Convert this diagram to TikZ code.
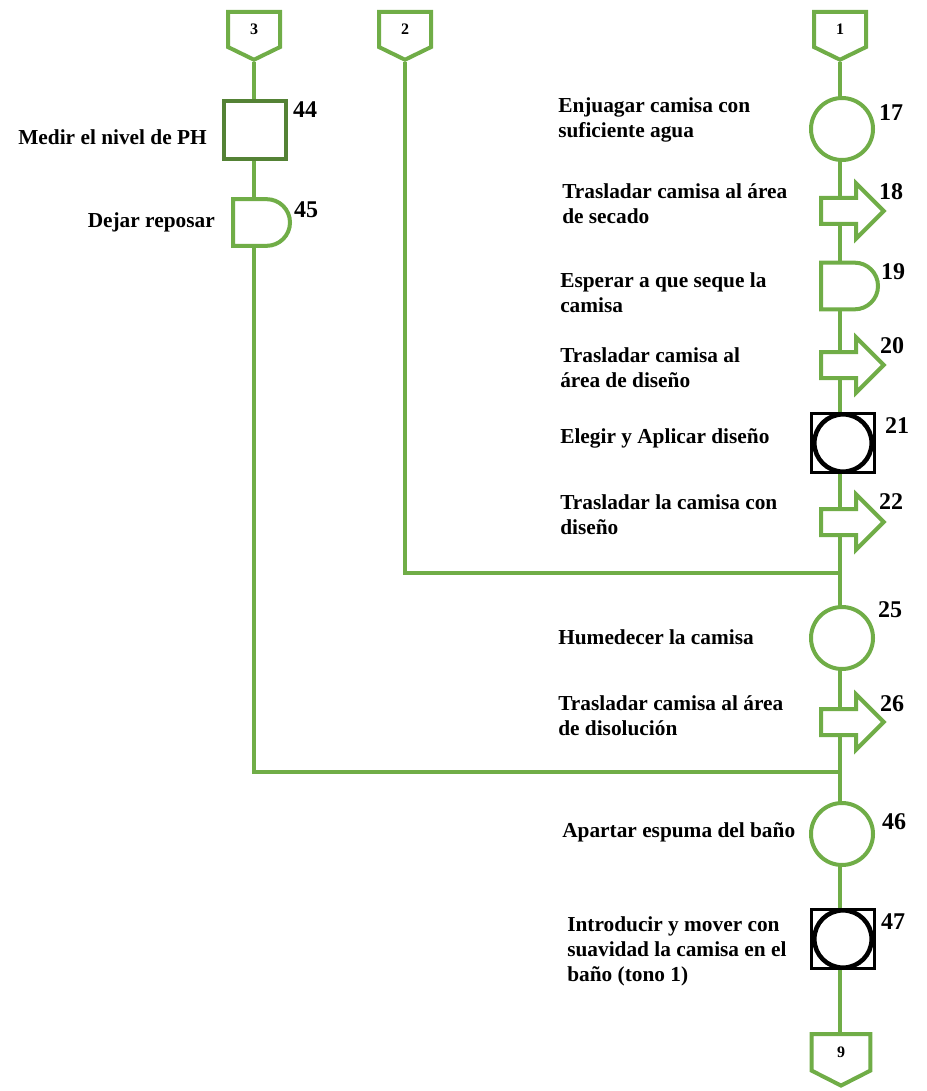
\documentclass[tikz,border=0pt]{standalone}
\usepackage{fontspec}
\setmainfont{Liberation Serif}
\usetikzlibrary{shapes.arrows,shapes.misc,shapes.symbols,backgrounds}
\definecolor{FlowGreen}{HTML}{70AD47}
\definecolor{FlowDarkGreen}{HTML}{548235}

\begin{document}
\begin{tikzpicture}[x=0.75pt, y=-0.75pt,
  flow/.style={draw=FlowGreen, line width=3pt},
  offpage/.style={signal, signal to=south, signal from=nowhere, signal pointer angle=128,
    draw=FlowGreen, line width=3pt, fill=white, minimum width=39pt, minimum height=27.75pt,
    inner sep=0pt, anchor=north, font=\fontsize{12}{12}\selectfont\bfseries},
  oper/.style={circle, draw=FlowGreen, line width=3pt, fill=white, minimum size=46.5pt, inner sep=0pt},
  transp/.style={single arrow, single arrow head extend=11pt, single arrow head indent=0pt,
    draw=FlowGreen, line width=3pt, fill=white, minimum height=47pt, inner xsep=0pt,
    inner ysep=8.25pt, anchor=tail},
  delay/.style={rounded rectangle, rounded rectangle left arc=none, draw=FlowGreen,
    line width=3pt, fill=white, minimum width=42.75pt, minimum height=35pt, inner sep=0pt, anchor=west},
  insp/.style={rectangle, draw=FlowDarkGreen, line width=3pt, fill=white,
    minimum width=46.5pt, minimum height=43.5pt, inner sep=0pt},
  combo/.style={rectangle, draw=black, line width=2.25pt, fill=white,
    minimum width=47.25pt, minimum height=44.25pt, inner sep=0pt},
  comboin/.style={circle, draw=black, line width=3.4pt, minimum size=43pt, inner sep=0pt},
  num/.style={font=\fontsize{18}{18}\selectfont\bfseries, inner sep=0pt},
  lbl/.style={font=\fontsize{16}{18.75}\selectfont\bfseries, align=left, inner sep=0pt, anchor=west},
]
  \useasboundingbox (0,0) rectangle (926,1091);

  \node[offpage] (c3) at (254,10) {3};
  \node[offpage] (c2) at (405,10) {2};
  \node[offpage] (c1) at (840,10) {1};

  \node[insp] (o44) at (255,130) {};
  \node[delay] (o45) at (231,222.5) {};

  \node[oper] (o17) at (842,129) {};
  \node[transp] (o18) at (819,211) {};
  \node[delay] (o19) at (819,286) {};
  \node[transp] (o20) at (819,365) {};
  \node[combo] (o21) at (843,443) {};
  \node[comboin] (o21c) at (o21) {};
  \node[transp] (o22) at (819,522) {};
  \node[oper] (o25) at (842,638) {};
  \node[transp] (o26) at (819,722) {};
  \node[oper] (o46) at (842,834) {};
  \node[combo] (o47) at (843,939) {};
  \node[comboin] (o47c) at (o47) {};
  \node[offpage, minimum width=44pt, minimum height=29pt, signal pointer angle=126] (c9) at (841,1032) {9};

  \coordinate (j2) at (840,573);
  \coordinate (j3) at (840,772);

  \begin{scope}[on background layer]
    \draw[flow] (c1.south) -- (c9.north -| c1.south);
    \draw[flow] (c2.south) |- (j2);
    \draw[flow] (c3.south) |- (j3);
  \end{scope}

  \node[num] (n44) at (305,110) {44};
  \node[num] (n45) at (306,210) {45};
  \node[num] (n17) at (891,113) {17};
  \node[num] (n18) at (891,192) {18};
  \node[num] (n19) at (893,272) {19};
  \node[num] (n20) at (892,346) {20};
  \node[num] (n21) at (897,426) {21};
  \node[num] (n22) at (891,502) {22};
  \node[num] (n25) at (890,610) {25};
  \node[num] (n26) at (892,704) {26};
  \node[num] (n46) at (894,822) {46};
  \node[num] (n47) at (893,922) {47};

  \node[lbl, anchor=east] (t44) at (207,137) {Medir el nivel de PH};
  \node[lbl, anchor=east] (t45) at (215,222) {Dejar reposar};
  \node[lbl] (t17) at (558,120) {Enjuagar camisa con\\suficiente agua};
  \node[lbl] (t18) at (562,204) {Trasladar camisa al área\\de secado};
  \node[lbl] (t19) at (560,293) {Esperar a que seque la\\camisa};
  \node[lbl] (t20) at (560,368) {Trasladar camisa al\\área de diseño};
  \node[lbl] (t21) at (560,438) {Elegir y Aplicar diseño};
  \node[lbl] (t22) at (560,515) {Trasladar la camisa con\\diseño};
  \node[lbl] (t25) at (558,637) {Humedecer la camisa};
  \node[lbl] (t26) at (558,716) {Trasladar camisa al área\\de disolución};
  \node[lbl] (t46) at (562,832) {Apartar espuma del baño};
  \node[lbl] (t47) at (567,951) {Introducir y mover con\\suavidad la camisa en el\\baño (tono 1)};
\end{tikzpicture}
\end{document}
